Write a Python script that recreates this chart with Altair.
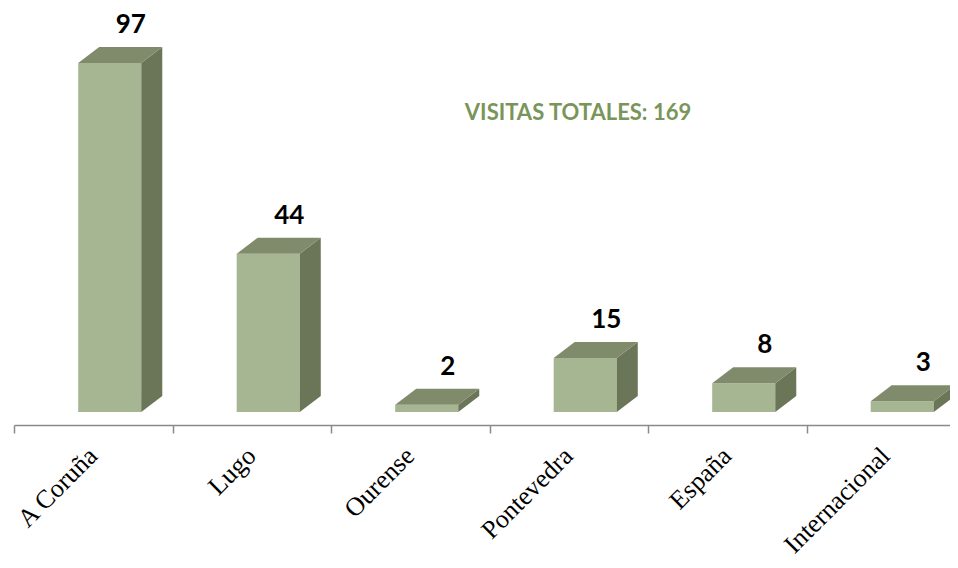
import altair as alt
import pandas as pd

# ---- data ----
categories = ["A Coruña", "Lugo", "Ourense", "Pontevedra", "España", "Internacional"]
values = [97, 44, 2, 15, 8, 3]
title_text = ["VISITAS TOTALES: 169"]

# ---- geometry of the pseudo-3D bars (in data units) ----
A, B = 0.405, 0.803      # front face start / end inside each category slot
D = 0.1325               # depth offset to the right (x units)
DY = 4.45                # depth offset upwards (y units)

FRONT = "#A6B592"
SIDE = "#6B7558"
TOP = "#808B6C"

front_rows, side_rows, top_rows, lab_rows, cat_rows = [], [], [], [], []
for i, (c, v) in enumerate(zip(categories, values)):
    front_rows.append({"cat": c, "x": i + A, "x2": i + B, "y": 0, "y2": v})
    side_rows.append({"cat": c, "x": i + B, "top": v, "bot": 0})
    side_rows.append({"cat": c, "x": i + B + D, "top": v + DY, "bot": DY})
    top_rows.append({"cat": c, "y": v, "x": i + A, "x2": i + B})
    top_rows.append({"cat": c, "y": v + DY, "x": i + A + D, "x2": i + B + D})
    lab_rows.append({"cat": c, "x": i + (A + B) / 2 + D, "y": v + DY, "val": str(v)})
    cat_rows.append({"cat": c, "x": i + 0.5})

front_df = pd.DataFrame(front_rows)
side_df = pd.DataFrame(side_rows)
top_df = pd.DataFrame(top_rows)
lab_df = pd.DataFrame(lab_rows)
cat_df = pd.DataFrame(cat_rows)
title_df = pd.DataFrame({"t": title_text})

W, H = 936, 413
PAD_TOP = 4
xscale = alt.Scale(domain=[0, W / 158.5], nice=False, zero=False)
yscale = alt.Scale(domain=[-3.61, 111.17], nice=False, zero=False)
xaxis = alt.Axis(values=[0, 1, 2, 3, 4, 5], labels=False, grid=False,
                 tickSize=8, domainColor="#8a8a8a", tickColor="#8a8a8a",
                 domainWidth=1.5, tickWidth=1.5, title=None)


def X(field, **kw):
    return alt.X(field, scale=xscale, axis=xaxis, **kw)


def Y(field, **kw):
    return alt.Y(field, scale=yscale, axis=None, **kw)


front = alt.Chart(front_df).mark_rect(color=FRONT).encode(
    x=X("x:Q"), x2="x2:Q", y=Y("y:Q"), y2="y2:Q",
)

side = alt.Chart(side_df).mark_area(color=SIDE, orient="vertical").encode(
    x=X("x:Q"), y=Y("top:Q", stack=False), y2="bot:Q", detail="cat:N",
)

top = alt.Chart(top_df).mark_area(color=TOP, orient="horizontal").encode(
    y=Y("y:Q"), x=X("x:Q", stack=False), x2="x2:Q", detail="cat:N",
)

labels = alt.Chart(lab_df).mark_text(
    font="Lato", fontWeight="bold", fontSize=26, color="#000000",
    baseline="alphabetic", align="center", dy=-14,
).encode(
    x=X("x:Q"), y=Y("y:Q"), text="val:N",
)

cat_labels = alt.Chart(cat_df).mark_text(
    font="Liberation Serif", fontSize=26, color="#000000",
    angle=315, align="right", baseline="middle",
).encode(
    x=X("x:Q"), y=alt.value(H + 27), text="cat:N",
)

title = alt.Chart(title_df).mark_text(
    font="Lato", fontWeight="bold", fontSize=22, color="#7A955A",
    align="center", baseline="middle",
).encode(
    x=alt.value(578 - 14),
    y=alt.value(113 - 8 - PAD_TOP),
    text="t:N",
)

chart = alt.layer(front, side, top, labels, cat_labels, title).properties(
    width=W, height=H,
    autosize=alt.AutoSizeParams(type="none"),
    padding={"left": 6, "top": PAD_TOP, "right": 0, "bottom": 135},
).configure_view(stroke=None)

chart.save("out.html", embed_options={"renderer": "svg", "actions": False})
